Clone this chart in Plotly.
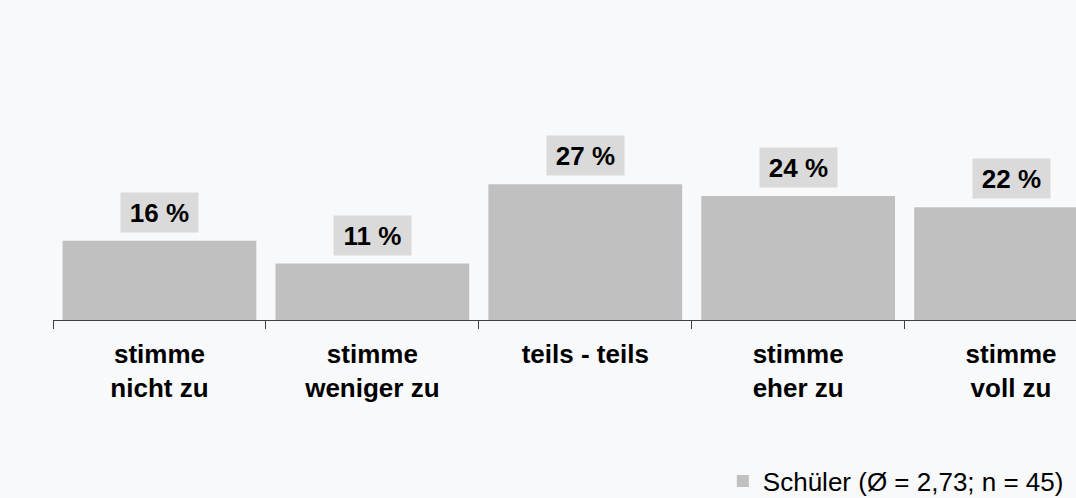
import plotly.graph_objects as go

categories = ["stimme<br>nicht zu", "stimme<br>weniger zu", "teils - teils", "stimme<br>eher zu", "stimme<br>voll zu"]
values = [15.6, 11.1, 26.7, 24.4, 22.2]
labels = ["16 %", "11 %", "27 %", "24 %", "22 %"]
series_name = "Schüler (Ø = 2,73; n = 45)"

BG = "#f8f9fb"
BAR = "#c0c0c0"
BOX = "#dadada"
FONT = "Liberation Sans, Arial, sans-serif"

fig = go.Figure()
fig.add_trace(go.Bar(
    x=categories, y=values, name=series_name,
    marker=dict(color=BAR, line=dict(width=0)),
    width=0.91, showlegend=True,
))

for c, v, t in zip(categories, values, labels):
    fig.add_annotation(
        x=c, y=v, xref="x", yref="y", text="<b>%s</b>" % t,
        showarrow=False, yanchor="bottom", yshift=8,
        width=77, height=39, bgcolor=BOX, borderpad=0,
        font=dict(family=FONT, size=26, color="#000000"),
    )

fig.update_layout(
    width=1076, height=498,
    margin=dict(l=53, r=0, t=15, b=178, autoexpand=False),
    paper_bgcolor=BG, plot_bgcolor=BG,
    font=dict(family=FONT, size=26, color="#000000"),
    showlegend=True,
    legend=dict(
        x=0.993, xanchor="right", y=-0.528, yanchor="middle",
        bgcolor="rgba(0,0,0,0)",
        font=dict(family=FONT, size=26, color="#000000"),
    ),
    xaxis=dict(
        type="category", automargin=False,
        range=[-0.5, 4.305],
        tickmode="array", tickvals=categories,
        ticktext=["<b>%s</b>" % c for c in categories],
        tickson="boundaries", ticks="outside", ticklen=8, tickwidth=1, tickcolor="#404040",
        ticklabelstandoff=11,
        showline=True, linecolor="#404040", linewidth=1,
        showgrid=False, zeroline=False,
        tickfont=dict(family=FONT, size=26, color="#000000"),
    ),
    yaxis=dict(
        range=[0, 60], visible=False, showgrid=False, zeroline=False, automargin=False,
    ),
)

fig.write_html(
    "out.html",
    config={"displayModeBar": False},
    post_script="document.body.style.margin='0';document.body.style.background='%s';" % BG,
)
